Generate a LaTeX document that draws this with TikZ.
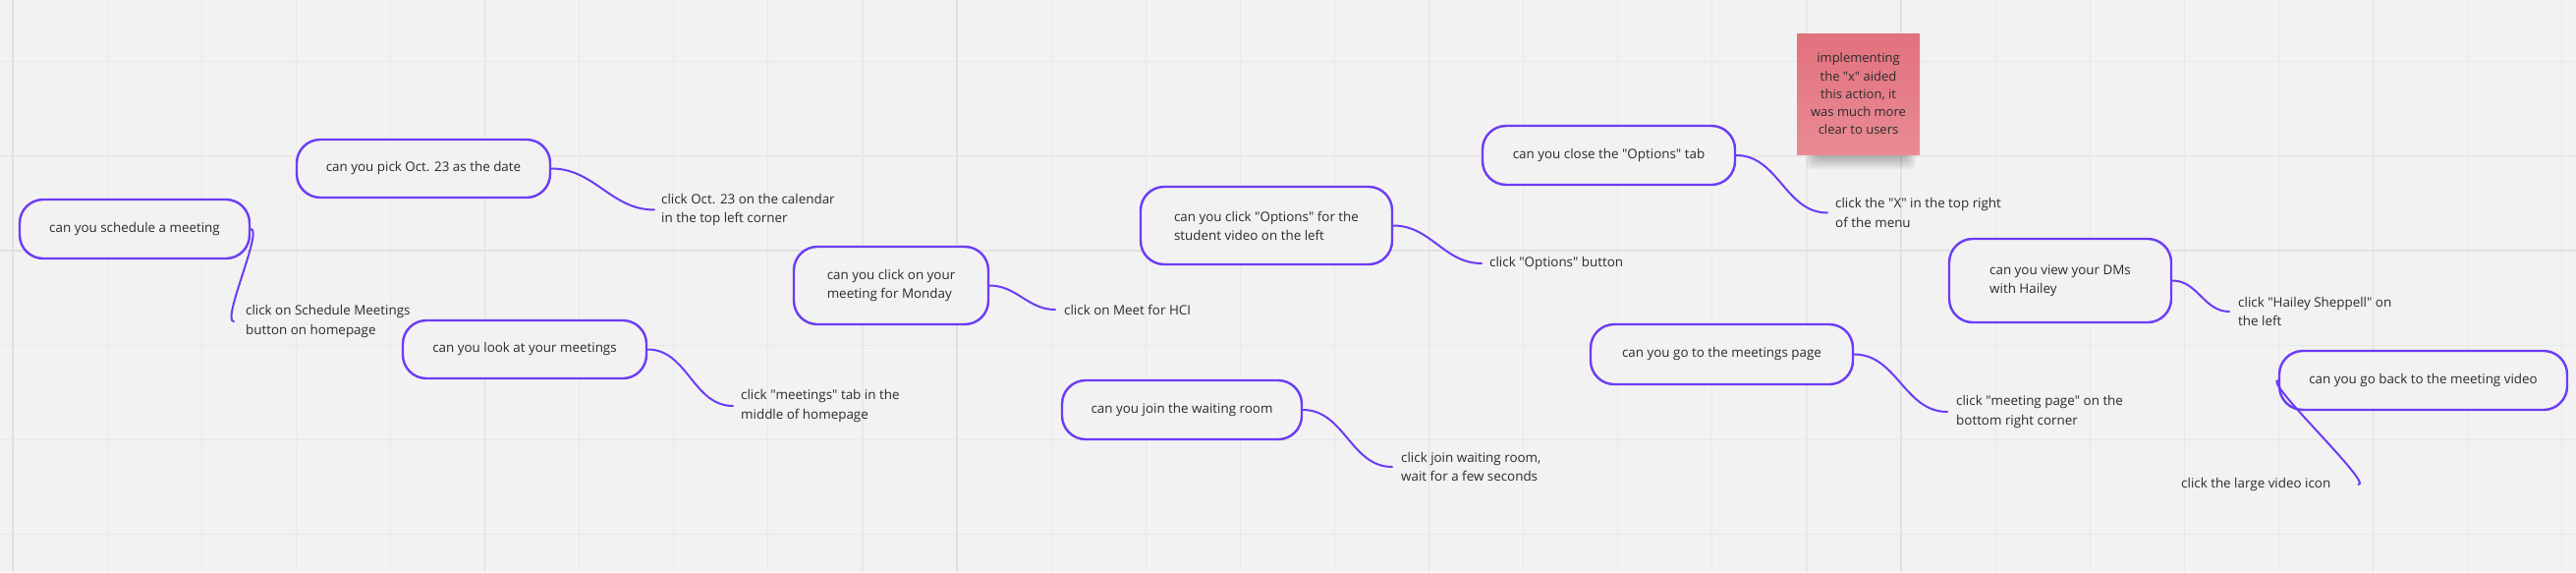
\documentclass[tikz,border=0pt]{standalone}
\usepackage{fontspec}
\setmainfont{Open Sans}[Ligatures=ResetAll]
\newcommand\dq{\XeTeXglyph\XeTeXcharglyph"22\relax}
\definecolor{bg}{HTML}{F2F2F2}
\definecolor{gridc}{HTML}{E8E8E8}
\definecolor{gridm}{HTML}{E1E1E1}
\definecolor{vio}{HTML}{6C3CF5}
\definecolor{txt}{HTML}{2B2B2B}
\definecolor{stickytop}{HTML}{E2717D}
\definecolor{stickybot}{HTML}{E98B94}
\tikzset{
  qbox/.style={draw=vio, line width=2.4pt, rounded corners=24pt, fill=bg, text=txt,
    font=\fontsize{13.4}{19}\selectfont, align=left, inner sep=0pt},
  lbl/.style={anchor=west, text=txt, font=\fontsize{13.4}{19.5}\selectfont, align=left, inner sep=0pt},
  link/.style={draw=vio, line width=2pt, line cap=round},
  notebox/.style={top color=stickytop, bottom color=stickybot, draw=none, text=txt,
    font=\fontsize{13}{18.3}\selectfont, align=center, inner sep=0pt,
    minimum width=125pt, minimum height=123pt}
}
\begin{document}
\begin{tikzpicture}[x=1pt,y=-1pt]
\fill[bg] (0,0) rectangle (2622,582);
\useasboundingbox (0,0) rectangle (2622,582);
% grid
\foreach \k in {0,...,27} {
  \pgfmathsetmacro{\xx}{13+96.1*\k}
  \draw[gridc, line width=1.2pt] (\xx,0) -- (\xx,582);
}
\foreach \k in {0,...,5} {
  \pgfmathsetmacro{\yy}{62.8+96.1*\k}
  \draw[gridc, line width=1.2pt] (0,\yy) -- (2622,\yy);
}
\foreach \k in {0,5,...,25} {
  \pgfmathsetmacro{\xx}{13+96.1*\k}
  \draw[gridm, line width=1.6pt] (\xx,0) -- (\xx,582);
}
\draw[gridm, line width=1.6pt] (0,255) -- (2622,255);

% question boxes
\node[qbox, minimum width=234pt, minimum height=60pt] (sched) at (137,233) {can you schedule a meeting};
\node[qbox, minimum width=258pt, minimum height=59pt] (pick) at (431,171.5) {can you pick Oct. 23 as the date};
\node[qbox, minimum width=248pt, minimum height=59pt] (look) at (534,355.5) {can you look at your meetings};
\node[qbox, minimum width=198pt, minimum height=79pt] (monday) at (907,290.5) {can you click on your\\meeting for Monday};
\node[qbox, minimum width=256pt, minimum height=79pt] (options) at (1289,229.5) {can you click \dq Options\dq{} for the\\student video on the left};
\node[qbox, minimum width=244pt, minimum height=60pt] (waiting) at (1203,417) {can you join the waiting room};
\node[qbox, minimum width=257pt, minimum height=60pt] (close) at (1637.5,158) {can you close the \dq Options\dq{} tab};
\node[qbox, minimum width=226pt, minimum height=85pt] (dms) at (2097,285.5) {can you view your DMs\\with Hailey};
\node[qbox, minimum width=267pt, minimum height=61pt] (meetpage) at (1752.5,360.5) {can you go to the meetings page};
\node[qbox, minimum width=293pt, minimum height=60pt] (back) at (2466.5,387) {can you go back to the meeting video};

% answer labels
\node[lbl] (l1) at (250,327) {click on Schedule Meetings\\button on homepage};
\node[lbl] (l2) at (673,213.5) {click Oct. 23 on the calendar\\in the top left corner};
\node[lbl] (l3) at (754,413) {click \dq meetings\dq{} tab in the\\middle of homepage};
\node[lbl] (l4) at (1083,315) {click on Meet for HCI};
\node[lbl] (l5) at (1516,268) {click \dq Options\dq{} button};
\node[lbl] (l6) at (1426,475) {click join waiting room,\\wait for a few seconds};
\node[lbl] (l7) at (1868,216.5) {click the \dq X\dq{} in the top right\\of the menu};
\node[lbl] (l8) at (2278,317) {click \dq Hailey Sheppell\dq{} on\\the left};
\node[lbl] (l9) at (1991,419) {click \dq meeting page\dq{} on the\\bottom right corner};
\node[lbl] (l10) at (2220,493) {click the large video icon};

% connectors
\draw[link] (sched.east) to[out=0,in=180,looseness=0.35] ([xshift=-12pt]l1.west);
\draw[link] (pick.east) to[out=0,in=180] ([xshift=-7pt]l2.west);
\draw[link] (look.east) to[out=0,in=180] ([xshift=-8pt]l3.west);
\draw[link] (monday.east) to[out=0,in=180] ([xshift=-9pt]l4.west);
\draw[link] (options.east) to[out=0,in=180] ([xshift=-8pt]l5.west);
\draw[link] (waiting.east) to[out=0,in=180] ([xshift=-9pt]l6.west);
\draw[link] (close.east) to[out=0,in=180] ([xshift=-8pt]l7.west);
\draw[link] (dms.east) to[out=0,in=180] ([xshift=-9pt]l8.west);
\draw[link] (meetpage.east) to[out=0,in=180] ([xshift=-9pt]l9.west);
\draw[link] (back.west) to[out=180,in=0,looseness=0.3] ([xshift=28pt]l10.east);

% sticky note with shadow
\foreach \i in {0,...,5} {
  \fill[black, opacity=0.045, rounded corners=6pt]
    (1838+2*\i,150) rectangle (1950-2*\i,172-2*\i);
}
\node[notebox] (note) at (1891.5,95.5) {implementing\\the \dq x\dq{} aided\\this action, it\\was much more\\clear to users};
\end{tikzpicture}
\end{document}
